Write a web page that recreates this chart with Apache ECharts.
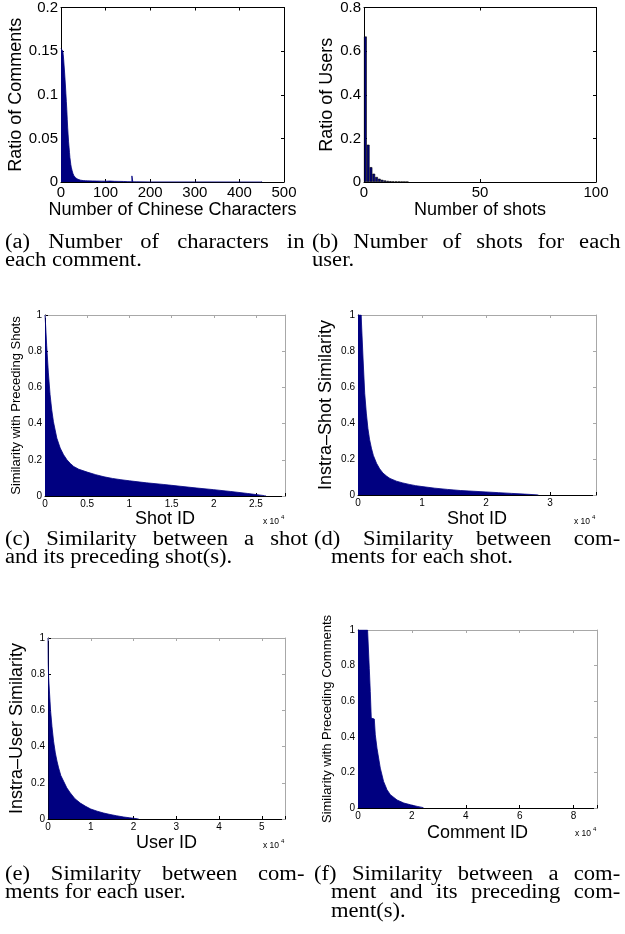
<!DOCTYPE html>
<html><head><meta charset="utf-8">
<script src="https://cdn.jsdelivr.net/npm/echarts@6/dist/echarts.min.js"></script>
<style>
html,body{margin:0;padding:0;background:#fff;}
#wrap{position:relative;width:625px;height:934px;overflow:hidden;background:#fff;}
#chart{position:absolute;left:0;top:0;width:625px;height:934px;}
.cap{position:absolute;font-family:"Liberation Serif","Times New Roman",serif;font-size:20px;line-height:18px;color:#000;white-space:nowrap;transform:scaleX(1.13);transform-origin:0 0;}
.cap.j{text-align:justify;text-align-last:justify;white-space:normal;}
</style></head><body>
<div id="wrap">
<div id="chart"></div>
<div class="cap j" style="left:5px;top:232px;width:265px;">(a) Number of characters in</div>
<div class="cap" style="left:5px;top:250px;">each comment.</div>
<div class="cap j" style="left:312px;top:232px;width:273px;">(b) Number of shots for each</div>
<div class="cap" style="left:312px;top:250px;">user.</div>
<div class="cap j" style="left:5px;top:529px;width:268px;">(c) Similarity between a shot</div>
<div class="cap" style="left:5px;top:547px;">and its preceding shot(s).</div>
<div class="cap j" style="left:314px;top:529px;width:271px;">(d) Similarity between com-</div>
<div class="cap" style="left:331px;top:547px;">ments for each shot.</div>
<div class="cap j" style="left:5px;top:864px;width:265px;">(e) Similarity between com-</div>
<div class="cap" style="left:5px;top:882px;">ments for each user.</div>
<div class="cap j" style="left:314px;top:864px;width:271px;">(f) Similarity between a com-</div>
<div class="cap j" style="left:331px;top:882px;width:256px;">ment and its preceding com-</div>
<div class="cap" style="left:331px;top:901px;">ment(s).</div>
</div>
<script>
// ---------- DATA ----------
// (a) histogram: bin left edge (number of chars) and ratio of comments
const charLen = [0,1,2,3,4,5,6,7,8,9,10,11,12,13,14,15,16,17,18,19,20,21,22,23,24,25,26,27,28,29,30,31,32,33,34,35,36,37,38,39,40,42,44,46,48,50,55,60,70,80,90,100,110,120,130,140,150,159,161,170,200,300,449,450];
const charRatio = [0.153,0.153,0.153,0.152,0.150,0.146,0.140,0.133,0.126,0.118,0.110,0.101,0.092,0.083,0.072,0.062,0.054,0.046,0.040,0.034,0.028,0.024,0.020,0.017,0.0148,0.0128,0.011,0.0095,0.0083,0.0072,0.0064,0.0058,0.0052,0.0047,0.0042,0.0038,0.0034,0.0031,0.0028,0.0026,0.0024,0.0021,0.0019,0.0018,0.0016,0.0015,0.0013,0.0012,0.0011,0.0010,0.0009,0.0011,0.0008,0.0007,0.0006,0.0004,0.0003,0.007,0.0002,0.0001,0.0001,0,0.0008,0];
// (b) histogram: number of shots (bin centre) and ratio of users
const shotCount = [0.6,1.8,3,4.2,5.4,6.6,7.8,9,10.2,11.4,12.6,13.8,15,16.2,17.4,18.6];
const userRatio = [0.667,0.171,0.068,0.038,0.023,0.015,0.010,0.007,0.005,0.0037,0.0028,0.0021,0.0016,0.0012,0.0009,0.0007];
// (c) similarity with preceding shots, sorted
const cShotId = [0,100,200,400,600,800,1000,1400,1800,2200,2600,3000,3400,4000,5000,6000,7000,8000,9000,10000,12000,14000,15000,16000,18000,20000,22000,24000,25000,26000,26200];
const cSim = [1.0,0.92,0.83,0.68,0.56,0.475,0.41,0.32,0.265,0.228,0.2,0.18,0.163,0.148,0.132,0.118,0.106,0.097,0.09,0.084,0.073,0.064,0.059,0.054,0.044,0.035,0.025,0.014,0.008,0.002,0];
// (d) intra-shot similarity, sorted
const dShotId = [0,500,550,800,1050,1300,1550,1800,2100,2400,2900,3400,3900,4500,5000,6000,7000,8000,9000,10000,12000,14000,16000,18000,20000,22000,24000,26000,28000,28200];
const dSim = [1,1,0.95,0.75,0.565,0.455,0.37,0.31,0.26,0.22,0.176,0.145,0.122,0.104,0.092,0.077,0.067,0.059,0.052,0.047,0.038,0.031,0.025,0.021,0.017,0.013,0.009,0.005,0.001,0];
// (e) intra-user similarity, sorted
const eUserId = [0,50,150,375,600,935,1300,1713,2100,2490,3000,3660,4400,5220,6300,7550,8800,10000,11500,13000,14500,16000,17700,19000,20000,21000,21200];
const eSim = [1,0.86,0.78,0.69,0.6,0.51,0.43,0.365,0.32,0.282,0.24,0.208,0.172,0.144,0.112,0.088,0.07,0.055,0.043,0.033,0.025,0.018,0.011,0.007,0.004,0.001,0];
// (f) similarity with preceding comments, sorted
const fCommentId = [0,3560,4190,4560,4930,6050,6420,7050,8280,9500,10760,12000,14500,17000,19500,22000,24300,24400];
const fSim = [1,1,0.785,0.654,0.505,0.5,0.411,0.336,0.224,0.149,0.103,0.075,0.045,0.028,0.018,0.009,0.002,0];
// tick labels
const aXTicks = [0,100,200,300,400,500], aYTicks = [0,0.05,0.1,0.15,0.2];
const bXTicks = [0,50,100], bYTicks = [0,0.2,0.4,0.6,0.8];
const simYTicks = [0,0.2,0.4,0.6,0.8,1];
const cXLabels = ['0','0.5','1','1.5','2','2.5'], cXStep = 5000, cXMax = 28440;
const dXLabels = ['0','1','2','3'], dXStep = 10000, dXMax = 37200;
const eXLabels = ['0','1','2','3','4','5'], eXStep = 10000, eXMax = 55400;
const fXLabels = ['0','2','4','6','8'], fXStep = 20000, fXMax = 88700;

// ---------- CHART ----------
const NAVY = '#000080';
const FONT = '"Liberation Sans", Arial, Helvetica, sans-serif';
const chart = echarts.init(document.getElementById('chart'), null, {renderer:'canvas'});
const grids = [], xAxis = [], yAxis = [], series = [], graphic = [];

function stepLabels(labels, step) {
  return function (v) {
    const k = Math.round(v / step);
    if (Math.abs(v - k * step) > 1e-6 || k >= labels.length) return '';
    return labels[k];
  };
}

function addPanel(p) {
  const gi = grids.length;
  grids.push(Object.assign({containLabel:false}, p.grid));
  const xi = xAxis.length, yi = yAxis.length;
  const xc = {type:'value', gridIndex:gi, min:0, max:p.xMax, interval:p.xInt, splitLine:{show:false}};
  const yc = {type:'value', gridIndex:gi, min:0, max:p.yMax, interval:p.yInt, splitLine:{show:false}};
  const tick = c => ({show:true, inside:true, length:3, lineStyle:{color:c, width:1}});
  xAxis.push(Object.assign({}, xc, {
    position:'bottom',
    axisLine:{show:true, onZero:false, lineStyle:{color:'#000', width:1}},
    axisTick:tick('#000'),
    axisLabel:{show:true, fontSize:p.tickFs, color:'#000', fontFamily:FONT, margin:p.xMargin, formatter:p.xFmt},
    name:p.xName, nameLocation:'middle', nameGap:p.xNameGap,
    nameTextStyle:{fontSize:p.xNameFs, color:'#000', fontFamily:FONT}
  }));
  xAxis.push(Object.assign({}, xc, {
    position:'top',
    axisLine:{show:true, onZero:false, lineStyle:{color:p.frame, width:1}},
    axisTick:tick(p.frame), axisLabel:{show:false}
  }));
  yAxis.push(Object.assign({}, yc, {
    position:'left',
    axisLine:{show:true, onZero:false, lineStyle:{color:'#000', width:1}},
    axisTick:tick('#000'),
    axisLabel:{show:true, fontSize:p.tickFs, color:'#000', fontFamily:FONT, margin:p.yMargin},
    name:p.yName, nameLocation:'middle', nameGap:p.yNameGap, nameRotate:90,
    nameTextStyle:{fontSize:p.yNameFs, color:'#000', fontFamily:FONT}
  }));
  yAxis.push(Object.assign({}, yc, {
    position:'right',
    axisLine:{show:true, onZero:false, lineStyle:{color:p.frame, width:1}},
    axisTick:tick(p.frame), axisLabel:{show:false}
  }));
  const s = Object.assign({xAxisIndex:xi, yAxisIndex:yi, silent:true, animation:false}, p.series);
  series.push(s);
  if (p.exp) {
    const right = p.grid.left + p.grid.width;
    const top = p.grid.top + p.grid.height;
    graphic.push({type:'text', left:right - 22, top:top + p.expDy, silent:true,
      style:{text:'x 10', fontSize:8.5, fontFamily:FONT, fill:'#000'}});
    graphic.push({type:'text', left:right - 4, top:top + p.expDy - 3, silent:true,
      style:{text:'4', fontSize:6, fontFamily:FONT, fill:'#000'}});
  }
}

function pairs(xs, ys) { return xs.map((x, i) => [x, ys[i]]); }

const areaLine = (xs, ys, extra) => Object.assign({
  type:'line', data:pairs(xs, ys), symbol:'none', showSymbol:false, smooth:false,
  lineStyle:{color:NAVY, width:0.8}, areaStyle:{color:NAVY, opacity:1}, sampling:null
}, extra || {});

// (a)
addPanel({
  grid:{left:61, top:5, width:223, height:177},
  xMax:aXTicks[aXTicks.length-1], xInt:aXTicks[1]-aXTicks[0],
  yMax:aYTicks[aYTicks.length-1], yInt:aYTicks[1]-aYTicks[0],
  tickFs:15, xMargin:3, yMargin:3, frame:'#000',
  xName:'Number of Chinese Characters', xNameGap:17, xNameFs:18,
  yName:'Ratio of Comments', yNameGap:34, yNameFs:18,
  series:areaLine(charLen, charRatio, {step:'end'})
});
// (b)
addPanel({
  grid:{left:364, top:5, width:232, height:177},
  xMax:bXTicks[bXTicks.length-1], xInt:bXTicks[1]-bXTicks[0],
  yMax:bYTicks[bYTicks.length-1], yInt:bYTicks[1]-bYTicks[0],
  tickFs:15, xMargin:3, yMargin:3, frame:'#000',
  xName:'Number of shots', xNameGap:18, xNameFs:18,
  yName:'Ratio of Users', yNameGap:27, yNameFs:18,
  series:{type:'bar', data:pairs(shotCount, userRatio), barCategoryGap:'0%', barGap:'0%',
    itemStyle:{color:NAVY, borderColor:'#000', borderWidth:0.6}}
});
// (c)
addPanel({
  grid:{left:45, top:315, width:240, height:181},
  xMax:cXMax, xInt:cXStep, yMax:1, yInt:simYTicks[1]-simYTicks[0],
  tickFs:10, xMargin:3.5, yMargin:3, frame:'#a8a8a8',
  xFmt:stepLabels(cXLabels, cXStep),
  xName:'Shot ID', xNameGap:14.5, xNameFs:18,
  yName:'Similarity with Preceding Shots', yNameGap:22, yNameFs:13,
  series:areaLine(cShotId, cSim), exp:true, expDy:21
});
// (d)
addPanel({
  grid:{left:358, top:315, width:238, height:180},
  xMax:dXMax, xInt:dXStep, yMax:1, yInt:simYTicks[1]-simYTicks[0],
  tickFs:10, xMargin:3.5, yMargin:3, frame:'#a8a8a8',
  xFmt:stepLabels(dXLabels, dXStep),
  xName:'Shot ID', xNameGap:15, xNameFs:18,
  yName:'Instra\u2013Shot Similarity', yNameGap:23, yNameFs:18,
  series:areaLine(dShotId, dSim), exp:true, expDy:22
});
// (e)
addPanel({
  grid:{left:48, top:638, width:237, height:181},
  xMax:eXMax, xInt:eXStep, yMax:1, yInt:simYTicks[1]-simYTicks[0],
  tickFs:10, xMargin:3.5, yMargin:3, frame:'#a8a8a8',
  xFmt:stepLabels(eXLabels, eXStep),
  xName:'User ID', xNameGap:15, xNameFs:18,
  yName:'Instra\u2013User Similarity', yNameGap:22, yNameFs:18,
  series:areaLine(eUserId, eSim), exp:true, expDy:22
});
// (f)
addPanel({
  grid:{left:358, top:630, width:239, height:178},
  xMax:fXMax, xInt:fXStep, yMax:1, yInt:simYTicks[1]-simYTicks[0],
  tickFs:10, xMargin:3.5, yMargin:3, frame:'#a8a8a8',
  xFmt:stepLabels(fXLabels, fXStep),
  xName:'Comment ID', xNameGap:16, xNameFs:18,
  yName:'Similarity with Preceding Comments', yNameGap:24, yNameFs:13,
  series:areaLine(fCommentId, fSim), exp:true, expDy:21
});

chart.setOption({
  animation:false,
  backgroundColor:'#fff',
  textStyle:{fontFamily:FONT},
  grid:grids, xAxis:xAxis, yAxis:yAxis, series:series, graphic:graphic
});
</script>
</body></html>
